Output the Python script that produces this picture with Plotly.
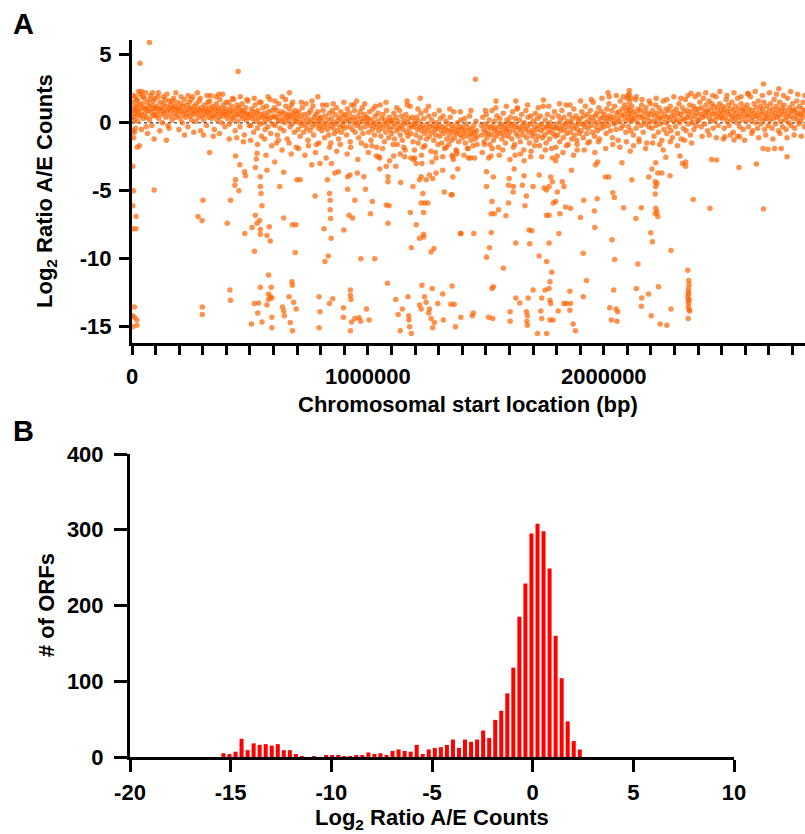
import plotly.graph_objects as go

# Panel A: (chromosomal start in kb, log2 ratio A/E counts)
band_0_700 = [
    (2,0.4),(4,0.9),(6,1.5),(8,0.2),(10,1.1),(12,0.7),(14,1.9),(16,0.5),(18,1.2),(20,0.9),(23,0.1),(25,1.6),(27,0.8),
    (30,1.3),(33,0.5),(35,2.1),(38,1.0),(41,0.6),(44,1.4),(47,0.3),(50,1.1),(53,1.8),(56,0.7),(59,1.0),(62,0.4),
    (65,1.5),(68,0.9),(71,1.2),(74,0.2),(77,1.7),(80,0.8),(83,1.3),(86,0.5),(89,1.0),(92,1.6),(95,0.6),(98,1.1),
    (3,-0.6),(7,-1.1),(15,-0.4),(22,-1.8),(40,-0.5),(60,-0.3),
    (101,0.5),(104,1.2),(107,0.8),(110,1.9),(113,0.3),(116,1.0),(119,1.5),(122,0.6),(125,1.1),(128,0.0),(131,0.9),
    (134,1.4),(137,0.7),(140,1.7),(143,0.4),(146,1.2),(149,0.8),(152,-0.2),(155,1.0),(158,1.6),(161,0.5),(164,1.3),
    (167,0.9),(170,0.2),(173,1.1),(176,1.8),(179,0.7),(182,1.2),(185,0.4),(188,1.0),(191,1.5),(194,0.6),(197,0.9),
    (201,1.1),(204,0.3),(207,1.4),(210,0.8),(213,0.0),(216,1.2),(219,0.6),(222,1.7),(225,0.9),(228,0.4),(231,1.3),
    (234,0.7),(237,-0.3),(240,1.0),(243,1.5),(246,0.5),(249,1.1),(252,0.2),(255,0.8),(258,1.9),(261,0.6),(264,1.2),
    (267,0.9),(270,0.1),(273,1.4),(276,0.7),(279,1.0),(282,0.4),(285,1.6),(288,0.8),(291,-0.6),(294,1.1),(297,0.5),
    (301,0.9),(304,0.2),(307,1.3),(310,0.6),(313,1.0),(316,-0.2),(319,0.8),(322,1.5),(325,0.4),(328,1.1),(331,0.7),
    (334,2.0),(337,0.3),(340,0.9),(343,1.2),(346,0.5),(349,-0.5),(352,1.0),(355,0.6),(358,1.4),(361,0.2),(364,0.8),
    (367,1.1),(370,0.4),(373,1.7),(376,0.7),(379,0.0),(382,1.0),(385,0.5),(388,1.3),(391,0.8),(394,-0.3),(397,0.6),
    (401,1.0),(404,0.3),(407,0.7),(410,1.5),(413,-0.1),(416,0.9),(419,0.5),(422,1.2),(425,0.2),(428,0.8),(431,1.7),
    (434,0.4),(437,-0.6),(440,1.0),(443,0.6),(446,1.3),(449,0.1),(452,0.7),(455,1.1),(458,-0.3),(461,0.5),(464,0.9),
    (467,1.4),(470,0.3),(473,0.8),(476,-0.9),(479,0.6),(482,1.1),(485,0.2),(488,0.7),(491,1.6),(494,0.4),(497,-0.2),
    (501,0.6),(504,-0.2),(507,1.0),(510,0.3),(513,0.8),(516,-0.7),(519,0.5),(522,1.3),(525,0.1),(528,0.7),(531,-0.4),
    (534,0.9),(537,0.3),(540,1.5),(543,-0.1),(546,0.6),(549,-1.0),(552,0.4),(555,1.1),(558,0.0),(561,0.7),(564,-0.5),
    (567,0.3),(570,1.2),(573,0.5),(576,-0.3),(579,0.8),(582,0.2),(585,1.7),(588,-0.8),(591,0.4),(594,0.9),(597,-0.1),
    (601,0.5),(604,1.1),(607,-0.2),(610,0.4),(613,0.9),(616,-0.9),(619,0.2),(622,1.4),(625,0.6),(628,-0.4),(631,0.1),
    (634,0.8),(637,1.9),(640,0.3),(643,-0.6),(646,0.7),(649,0.0),(652,1.2),(655,0.4),(658,-1.2),(661,0.6),(664,0.2),
    (667,1.0),(670,-0.3),(673,0.5),(676,1.3),(679,-0.1),(682,0.7),(685,0.3),(688,-0.7),(691,0.9),(694,0.1),(697,0.6),
]
band_700_1470 = [
    (701,0.3),(704,-0.5),(707,0.8),(710,0.0),(713,-1.0),(716,0.5),(719,-0.2),(722,1.1),(725,0.2),(728,-0.7),(731,0.6),
    (734,-0.1),(737,1.4),(740,-0.4),(743,0.3),(746,-1.3),(749,0.7),(752,0.0),(755,-0.6),(758,0.9),(761,0.2),(764,-0.3),
    (767,1.2),(770,-0.9),(773,0.4),(776,-0.1),(779,0.6),(782,-1.6),(785,0.1),(788,0.8),(791,-0.4),(794,0.3),(797,-0.2),
    (801,0.4),(804,-0.6),(807,0.1),(810,0.9),(813,-0.3),(816,-1.1),(819,0.5),(822,-0.1),(825,1.3),(828,-0.5),(831,0.2),
    (834,-0.9),(837,0.7),(840,-0.2),(843,-1.5),(846,0.3),(849,0.9),(852,-0.4),(855,0.0),(858,-0.8),(861,0.6),(864,-0.1),
    (867,1.1),(870,-0.6),(873,0.2),(876,-1.2),(879,0.4),(882,-0.3),(885,0.8),(888,-0.7),(891,0.1),(894,-0.2),(897,0.5),
    (901,-0.4),(904,0.6),(907,0.1),(910,-0.9),(913,1.0),(916,0.3),(919,-0.3),(922,0.7),(925,-1.4),(928,0.2),(931,1.3),
    (934,-0.5),(937,0.4),(940,-0.1),(943,0.9),(946,-0.7),(949,0.2),(952,1.6),(955,-0.2),(958,0.5),(961,-1.1),(964,0.0),
    (967,0.8),(970,-0.4),(973,0.3),(976,1.1),(979,-0.8),(982,0.1),(985,0.6),(988,-0.3),(991,-1.7),(994,0.4),(997,0.0),
    (1001,0.3),(1004,-0.7),(1007,0.8),(1010,-0.2),(1013,-1.3),(1016,0.2),(1019,-0.5),(1022,1.0),(1025,-0.1),(1028,-0.9),
    (1031,0.5),(1034,-0.3),(1037,-1.8),(1040,0.1),(1043,0.7),(1046,-0.6),(1049,-0.2),(1052,1.3),(1055,-1.0),(1058,0.3),
    (1061,-0.4),(1064,0.6),(1067,-0.1),(1070,-1.4),(1073,0.2),(1076,-0.7),(1079,0.9),(1082,-0.3),(1085,0.0),(1088,-1.1),
    (1091,0.4),(1094,-0.5),(1097,0.1),
    (1101,-0.8),(1104,0.2),(1107,-0.3),(1110,0.7),(1113,-1.2),(1116,-0.1),(1119,0.4),(1122,-0.6),(1125,-1.6),(1128,0.1),
    (1131,-0.4),(1134,0.9),(1137,-0.9),(1140,-0.2),(1143,0.5),(1146,-1.3),(1149,-0.5),(1152,0.2),(1155,-0.1),(1158,-2.0),
    (1161,0.6),(1164,-0.7),(1167,0.0),(1170,-1.0),(1173,0.3),(1176,-0.4),(1179,1.2),(1182,-0.8),(1185,-0.2),(1188,0.4),
    (1191,-1.4),(1194,-0.3),(1197,0.1),
    (1201,-0.1),(1204,-0.9),(1207,0.4),(1210,-0.5),(1213,-1.5),(1216,0.1),(1219,-0.3),(1222,-1.1),(1225,0.7),(1228,-0.6),
    (1231,-0.2),(1234,-1.8),(1237,0.3),(1240,-0.8),(1243,-0.4),(1246,0.9),(1249,-1.2),(1252,-0.1),(1255,-0.6),(1258,0.5),
    (1261,-1.0),(1264,-0.3),(1267,-2.1),(1270,0.2),(1273,-0.7),(1276,-0.2),(1279,-1.3),(1282,0.6),(1285,-0.5),(1288,-0.9),
    (1291,0.0),(1294,-0.4),(1297,-1.6),
    (1301,-0.2),(1304,-1.0),(1307,0.3),(1310,-0.6),(1313,-1.5),(1316,-0.3),(1319,0.5),(1322,-0.8),(1325,-1.9),(1328,-0.4),
    (1331,0.1),(1334,-1.2),(1337,-0.6),(1340,-0.1),(1343,-1.6),(1346,-0.9),(1349,0.4),(1352,-0.5),(1355,-1.3),(1358,-0.2),
    (1361,-0.7),(1364,0.8),(1367,-1.1),(1370,-0.4),(1373,-2.0),(1376,-0.8),(1379,0.0),(1382,-0.6),(1385,-1.4),(1388,-0.3),
    (1391,-0.9),(1394,0.2),(1397,-0.5),
    (1401,-1.1),(1404,-0.3),(1407,-0.8),(1410,0.3),(1413,-1.5),(1416,-0.6),(1419,-0.1),(1422,-1.0),(1425,-1.9),(1428,-0.4),
    (1431,0.5),(1434,-0.8),(1437,-1.3),(1440,-0.5),(1443,-0.9),(1446,-1.7),(1449,-0.2),(1452,-0.7),(1455,-1.2),(1458,0.1),
    (1461,-0.6),(1464,-1.0),
]
band_1480_2100 = [
    (1481,-0.2),(1484,-0.9),(1487,0.4),(1490,-0.5),(1493,-1.4),(1496,-0.1),(1499,-0.7),(1502,0.6),(1505,-1.1),(1508,-0.3),
    (1511,-0.8),(1514,0.2),(1517,-1.6),(1520,-0.4),(1523,-0.9),(1526,0.9),(1529,-0.2),(1532,-1.3),(1535,-0.6),(1538,0.1),
    (1541,-0.4),(1544,-1.0),(1547,0.5),(1550,-0.7),(1553,-1.8),(1556,-0.3),(1559,0.3),(1562,-0.8),(1565,-0.1),(1568,-1.2),
    (1571,-0.5),(1574,0.7),(1577,-0.9),(1580,-0.2),(1583,-1.5),(1586,-0.6),(1589,0.2),(1592,-0.4),(1595,-1.0),(1598,0.0),
    (1601,-0.7),(1604,0.4),(1607,-0.2),(1610,-1.2),(1613,0.8),(1616,-0.5),(1619,-0.1),(1622,-1.6),(1625,0.3),(1628,-0.8),
    (1631,-0.3),(1634,1.1),(1637,-1.0),(1640,-0.4),(1643,0.2),(1646,-1.4),(1649,-0.6),(1652,0.6),(1655,-0.2),(1658,-0.9),
    (1661,-2.0),(1664,0.0),(1667,-0.5),(1670,0.9),(1673,-1.1),(1676,-0.3),(1679,0.4),(1682,-0.7),(1685,-1.5),(1688,-0.1),
    (1691,0.5),(1694,-0.6),(1697,-1.0),
    (1701,0.1),(1704,-0.8),(1707,-0.3),(1710,0.7),(1713,-1.3),(1716,-0.5),(1719,0.3),(1722,-1.0),(1725,-0.2),(1728,-1.7),
    (1731,0.5),(1734,-0.6),(1737,-0.1),(1740,-1.1),(1743,1.2),(1746,-0.4),(1749,-0.9),(1752,0.2),(1755,-1.5),(1758,-0.3),
    (1761,0.6),(1764,-0.7),(1767,-0.2),(1770,-1.2),(1773,0.0),(1776,-0.5),(1779,-1.9),(1782,0.4),(1785,-0.8),(1788,-0.3),
    (1791,0.8),(1794,-1.0),(1797,-0.4),
    (1801,-0.1),(1804,-0.9),(1807,0.5),(1810,-0.4),(1813,-1.4),(1816,0.2),(1819,-0.6),(1822,0.9),(1825,-0.2),(1828,-1.1),
    (1831,0.4),(1834,-0.5),(1837,-0.1),(1840,1.3),(1843,-0.8),(1846,0.1),(1849,-1.6),(1852,-0.3),(1855,0.6),(1858,-0.7),
    (1861,0.0),(1864,-1.2),(1867,0.3),(1870,-0.4),(1873,1.0),(1876,-0.9),(1879,-0.2),(1882,0.5),(1885,-1.3),(1888,-0.5),
    (1891,0.2),(1894,-0.1),(1897,-0.8),
    (1901,0.3),(1904,-0.6),(1907,0.8),(1910,-0.1),(1913,-1.1),(1916,0.5),(1919,-0.3),(1922,1.2),(1925,0.0),(1928,-0.8),
    (1931,0.6),(1934,-0.4),(1937,0.2),(1940,-1.4),(1943,0.9),(1946,-0.2),(1949,0.4),(1952,-0.7),(1955,1.5),(1958,0.1),
    (1961,-1.0),(1964,0.5),(1967,-0.3),(1970,0.7),(1973,-0.6),(1976,0.0),(1979,1.1),(1982,-1.2),(1985,0.3),(1988,-0.4),
    (1991,0.8),(1994,-0.1),(1997,0.4),
    (2001,-0.3),(2004,0.6),(2007,0.1),(2010,-0.8),(2013,1.0),(2016,0.3),(2019,-0.2),(2022,1.4),(2025,0.5),(2028,-0.6),
    (2031,0.2),(2034,0.9),(2037,-1.1),(2040,0.4),(2043,-0.1),(2046,1.2),(2049,0.0),(2052,-0.5),(2055,0.7),(2058,0.3),
    (2061,-1.3),(2064,0.8),(2067,0.1),(2070,1.6),(2073,-0.4),(2076,0.5),(2079,1.0),(2082,-0.2),(2085,0.6),(2088,1.3),
    (2091,0.2),(2094,-0.7),(2097,0.9),(2099,1.8),
]
band_2100_2860 = [
    (2101,0.4),(2103,1.1),(2105,-0.3),(2107,0.7),(2109,1.5),(2111,0.1),(2113,0.9),(2115,-0.6),(2117,0.5),(2119,1.2),
    (2122,0.2),(2125,-0.9),(2128,0.8),(2131,0.3),(2134,1.7),(2137,-0.4),(2140,0.6),(2143,0.0),(2146,1.0),(2149,-1.2),
    (2152,0.4),(2155,0.9),(2158,-0.2),(2161,1.3),(2164,0.5),(2167,-0.7),(2170,0.2),(2173,0.8),(2176,-0.1),(2179,1.1),
    (2182,-1.5),(2185,0.4),(2188,0.7),(2191,-0.3),(2194,0.1),(2197,1.4),
    (2201,0.6),(2204,-0.4),(2207,0.9),(2210,0.1),(2213,-1.0),(2216,0.5),(2219,1.3),(2222,-0.2),(2225,0.7),(2228,0.2),
    (2231,-0.7),(2234,1.1),(2237,0.4),(2240,-0.1),(2243,0.8),(2246,-1.3),(2249,0.3),(2252,1.6),(2255,-0.5),(2258,0.6),
    (2261,0.0),(2264,1.0),(2267,-0.8),(2270,0.4),(2273,0.9),(2276,-0.3),(2279,0.2),(2282,1.2),(2285,-0.6),(2288,0.5),
    (2291,-1.1),(2294,0.8),(2297,0.1),
    (2301,0.5),(2304,-0.3),(2307,1.0),(2310,0.2),(2313,-0.8),(2316,0.7),(2319,1.4),(2322,0.0),(2325,0.6),(2328,-1.2),
    (2331,0.3),(2334,1.1),(2337,-0.4),(2340,0.8),(2343,0.2),(2346,1.7),(2349,-0.6),(2352,0.4),(2355,0.9),(2358,-0.1),
    (2361,0.6),(2364,1.3),(2367,-0.9),(2370,0.3),(2373,0.8),(2376,0.0),(2379,1.2),(2382,-0.5),(2385,0.5),(2388,1.0),
    (2391,-0.2),(2394,0.7),(2397,0.2),
    (2401,1.0),(2404,0.2),(2407,1.5),(2410,0.6),(2413,-0.3),(2416,1.1),(2419,0.4),(2422,1.8),(2425,0.8),(2428,-0.1),
    (2431,0.5),(2434,1.3),(2437,0.9),(2440,-0.6),(2443,0.7),(2446,1.6),(2449,0.3),(2452,1.0),(2455,0.1),(2458,1.4),
    (2461,0.6),(2464,-0.4),(2467,1.2),(2470,0.8),(2473,0.2),(2476,1.9),(2479,0.5),(2482,1.1),(2485,-0.2),(2488,0.7),
    (2491,1.4),(2494,0.4),(2497,0.9),
    (2501,0.3),(2504,1.2),(2507,0.7),(2510,-0.4),(2513,1.0),(2516,0.4),(2519,1.7),(2522,0.1),(2525,0.8),(2528,1.3),
    (2531,-0.2),(2534,0.6),(2537,1.0),(2540,0.2),(2543,1.5),(2546,0.5),(2549,-0.7),(2552,0.9),(2555,0.3),(2558,1.2),
    (2561,0.7),(2564,0.0),(2567,1.8),(2570,0.4),(2573,1.0),(2576,-0.3),(2579,0.6),(2582,1.4),(2585,0.2),(2588,0.9),
    (2591,-0.5),(2594,1.1),(2597,0.5),
    (2601,0.8),(2604,0.1),(2607,1.3),(2610,0.5),(2613,-0.3),(2616,1.0),(2619,0.6),(2622,1.9),(2625,0.2),(2628,0.9),
    (2631,-0.6),(2634,0.4),(2637,1.4),(2640,0.7),(2643,0.0),(2646,1.1),(2649,0.5),(2652,-0.4),(2655,1.6),(2658,0.3),
    (2661,0.8),(2664,1.2),(2667,-0.1),(2670,0.6),(2673,1.0),(2676,0.2),(2679,1.5),(2682,-0.5),(2685,0.7),(2688,0.3),
    (2691,1.2),(2694,0.5),(2697,-0.2),
    (2701,0.9),(2704,0.2),(2707,1.4),(2710,0.6),(2713,-0.4),(2716,1.0),(2719,0.3),(2722,1.7),(2725,0.7),(2728,-0.1),
    (2731,1.2),(2734,0.4),(2737,0.9),(2740,-0.6),(2743,0.5),(2746,1.5),(2749,0.1),(2752,0.8),(2755,1.1),(2758,-0.3),
    (2761,0.6),(2764,1.3),(2767,0.2),(2770,0.9),(2773,-0.5),(2776,0.4),(2779,1.8),(2782,0.7),(2785,0.0),(2788,1.1),
    (2791,0.5),(2794,-0.2),(2797,0.9),(2800,1.4),(2803,0.3),(2806,0.8),(2809,-0.4),(2812,1.0),(2815,0.5),(2818,1.6),
    (2821,0.2),(2824,0.7),(2827,-0.1),(2830,1.2),(2833,0.6),(2836,0.1),(2839,1.0),(2842,0.4),(2845,1.5),(2848,0.7),
    (2851,-0.3),(2854,0.9),
]
band_fringe = [
    (5,2.0),(19,1.7),(28,2.3),(45,1.9),(58,2.2),(66,-0.8),(79,2.0),(84,-0.2),(97,1.8),(112,2.2),(118,-0.6),(133,1.9),
    (148,2.1),(157,-0.4),(171,1.6),(186,2.2),(199,-0.5),(208,1.9),(223,-0.9),(238,2.0),(251,1.7),(262,-0.7),(277,2.2),
    (289,1.8),(303,-0.9),(318,2.0),(330,1.6),(344,-1.0),(356,1.9),(371,-0.8),(384,2.1),(399,1.5),(412,-1.2),(426,1.8),
    (444,-1.1),(459,1.9),(472,-1.4),(487,1.7),(503,-1.3),(518,1.8),(532,-1.6),(547,1.5),(562,-1.2),(577,1.9),(592,-1.7),
    (606,1.6),(621,-1.3),(636,-2.0),(651,1.7),(666,-1.5),(681,1.5),(696,-1.8),
    (706,-1.9),(718,1.5),(733,-2.4),(748,-1.7),(763,1.6),(778,-2.2),(793,-1.5),(808,1.3),(823,-2.6),(838,-1.8),(853,1.4),
    (868,-2.1),(883,-1.6),(898,1.5),(912,-2.3),(927,-1.8),(942,1.3),(957,-2.7),(972,-1.5),(987,1.4),(1002,-2.2),
    (1017,-1.7),(1032,1.2),(1047,-2.5),(1062,-1.9),(1077,1.5),(1092,-2.8),(1107,-1.6),(1122,1.1),(1137,-2.3),(1152,-1.8),
    (1167,1.3),(1182,-2.6),(1197,-2.0),(1212,1.0),(1227,-2.4),(1242,-1.7),(1257,1.2),(1272,-2.9),(1287,-2.2),(1302,0.9),
    (1317,-2.5),(1332,-1.8),(1347,1.0),(1362,-2.7),(1377,-2.1),(1392,0.8),(1407,-2.4),(1422,-1.9),(1437,0.9),(1452,-2.6),
    (1463,-1.6),
    (1485,-2.2),(1498,0.9),(1512,-2.6),(1527,-1.9),(1542,1.1),(1557,-2.4),(1572,-2.0),(1587,1.2),(1602,-2.7),(1617,-1.8),
    (1632,1.0),(1647,-2.3),(1662,-2.8),(1677,1.3),(1692,-2.1),(1707,-1.7),(1722,1.1),(1737,-2.5),(1752,-2.0),(1767,1.2),
    (1782,-2.6),(1797,-1.8),(1812,1.4),(1827,-2.2),(1842,-1.7),(1857,1.3),(1872,-2.4),(1887,-1.6),(1902,1.6),(1917,-2.0),
    (1932,-1.5),(1947,1.7),(1962,-2.2),(1977,-1.4),(1992,1.8),(2008,-1.9),(2023,1.9),(2038,-1.6),(2053,2.0),(2068,-1.8),
    (2083,1.9),(2096,-1.4),
    (2102,2.0),(2114,1.8),(2126,-1.7),(2138,1.9),(2150,-1.4),(2162,1.7),(2177,-1.9),(2192,1.6),(2207,-1.5),(2222,1.8),
    (2237,-1.6),(2252,-2.0),(2267,1.7),(2282,-1.4),(2297,1.9),(2312,-1.7),(2327,1.8),(2342,-1.3),(2357,2.0),(2372,-1.5),
    (2387,1.9),(2402,2.1),(2417,-1.0),(2432,2.2),(2447,-0.9),(2462,2.0),(2477,-1.1),(2492,2.3),(2507,-1.2),(2522,2.0),
    (2537,-0.9),(2552,2.2),(2567,-1.0),(2582,1.9),(2597,-1.3),(2612,2.1),(2627,-0.8),(2642,2.3),(2657,-1.1),(2672,2.0),
    (2687,-0.9),(2702,2.2),(2717,-1.2),(2732,2.1),(2747,-0.8),(2762,2.0),(2777,-1.1),(2792,2.3),(2807,-0.9),(2822,2.1),
    (2837,-1.0),(2852,2.0),
]
high_points = [
    (74,5.9),(34,4.37),(450,3.76),(1456,3.2),(2677,2.85),(41,2.3),(87,2.2),(667,2.2),(788,1.9),(368,2.1),(1166,1.6),
    (1222,1.8),(2018,2.2),(2108,2.36),(2108,2.1),(2742,2.5),(2370,2.16),(2611,2.16),(1543,1.6),(1744,1.67),(1627,1.6),
    (10,-0.7),(31,-1.7),(94,-1.2),(146,-1.3),(612,-1.5),(1494,-1.6),
]
tail_left = [
    (94,-4.95),(3,-3.2),(6,-5.0),(3,-6.1),(17,-6.9),(3,-7.8),(17,-7.8),(329,-2.2),(301,-5.7),(280,-6.9),(297,-7.2),
    (404,-7.4),(418,-5.7),(436,-4.6),(453,-5.0),(439,-4.2),(457,-3.1),(439,-2.45),(477,-3.6),(481,-3.9),
    (478,-8.15),(519,-9.45),(523,-6.8),(530,-7.4),(541,-7.2),(544,-7.85),(509,-7.7),(544,-8.2),(572,-8.3),(586,-8.7),
    (582,-7.65),(551,-6.1),(547,-5.2),(544,-4.7),(544,-3.97),(523,-3.3),(527,-2.67),(530,-2.25),(568,-2.4),(572,-3.5),
    (605,-2.9),(626,-4.7),(643,-3.65),(643,-7.0),(680,-7.5),(695,-7.5),(692,-9.55),(699,-4.2),(713,-4.2),(675,-2.3),
    (776,-5.4),(814,-7.8),(832,-9.8),(818,-10.2),(837,-5.2),(840,-5.7),(840,-6.4),(842,-7.05),(844,-8.5),(828,-4.2),
    (797,-3.0),(846,-3.0),(762,-3.1),(875,-3.6),(860,-3.7),(914,-4.9),(914,-3.97),(924,-3.85),(920,-6.8),(935,-7.0),
    (898,-7.9),(945,-5.7),(955,-3.7),(990,-4.9),(983,-3.97),(970,-10.0),
]
tail_mid = [
    (1029,-10.0),(1011,-6.7),(1019,-5.8),(1036,-2.45),(1050,-2.6),(1050,-3.4),(1078,-3.2),(1085,-3.97),(1085,-4.35),
    (1078,-6.06),(1090,-6.1),(1085,-7.4),(1118,-3.2),(1109,-2.45),(1139,-4.4),(1156,-2.5),(1191,-4.7),(1194,-2.7),
    (1180,-6.6),(1184,-9.2),(1205,-7.5),(1219,-8.5),(1226,-5.9),(1236,-6.6),(1240,-5.9),(1233,-5.2),(1254,-5.9),
    (1236,-8.2),(1237,-8.4),(1268,-9.5),(1280,-9.25),(1275,-4.1),(1261,-3.85),(1247,-4.2),(1226,-3.97),(1219,-4.2),
    (1289,-3.7),(1324,-5.1),(1317,-3.5),(1360,-4.0),(1353,-5.3),(1392,-8.15),(1381,-3.4),(1289,-2.6),(1360,-2.5),
    (1426,-2.6),(1205,-3.0),(1198,-2.6),(1229,-3.0),(1357,-2.4),(1377,-2.3),(1435,-2.6),(1357,-5.3),(1395,-8.15),
    (1449,-8.15),(1522,-2.45),(1503,-3.6),(1532,-4.0),(1503,-4.7),(1526,-5.8),(1522,-6.7),(1536,-6.7),(1554,-6.4),
    (1523,-8.07),(1515,-9.2),(1503,-9.9),(1574,-10.7),(1585,-6.85),(1596,-5.9),(1599,-4.1),(1617,-4.7),(1616,-5.1),
    (1596,-4.6),(1620,-3.4),(1624,-2.4),(1627,-8.85),(1662,-3.9),(1655,-4.6),(1672,-5.4),(1666,-6.1),(1683,-7.9),
    (1695,-7.95),(1686,-8.9),(1726,-9.8),(1690,-2.5),(1700,-4.7),(1726,-3.85),(1747,-4.8),(1757,-4.95),(1768,-4.7),
    (1775,-4.0),(1782,-4.35),(1786,-5.9),(1796,-5.8),(1803,-5.1),(1814,-6.7),(1757,-6.8),(1768,-6.8),(1768,-8.85),
    (1758,-10.2),(1779,-11.0),(1772,-11.7),(1803,-2.45),(1796,-2.8),(1824,-4.35),(1831,-4.7),(1838,-6.2),(1810,-8.15),
    (1859,-6.3),(1863,-3.5),(1901,-6.97),(1915,-5.7),(1913,-9.6),(1927,-11.6),(1887,-2.0),(1965,-3.1),(1974,-2.9),
    (1972,-5.6),(1960,-6.5),(1962,-7.7),
]
tail_right = [
    (2007,-4.0),(2021,-4.0),(2038,-5.15),(2045,-5.5),(2035,-8.6),(2046,-10.06),(2077,-2.94),(2112,-2.1),(2119,-4.2),
    (2084,-6.25),(2136,-7.04),(2159,-6.25),(2145,-10.4),(2190,-4.0),(2204,-3.4),(2199,-8.1),(2206,-8.76),(2218,-6.67),
    (2225,-6.55),(2229,-6.9),(2220,-6.3),(2218,-5.25),(2220,-4.7),(2225,-4.45),(2218,-4.35),(2229,-3.7),(2246,-3.7),
    (2220,-2.94),(2263,-2.55),(2281,-3.9),(2285,-9.4),(2323,-2.45),(2334,-3.0),(2347,-2.9),(2347,-3.2),(2379,-5.65),
    (2450,-6.3),(2457,-2.7),(2478,-2.75),(2573,-3.3),(2647,-3.04),(2677,-6.35),(2777,-2.5),(2675,-1.9),(2696,-1.96),
    (2724,-1.9),(2752,-1.9),(2513,-1.03),(2552,-1.27),(2576,-1.03),(2356,-10.85),
]
low_cluster = [
    (10,-13.55),(2,-14.2),(10,-14.3),(21,-14.5),(21,-14.9),(3,-15.0),(298,-13.55),(298,-14.1),(415,-12.3),(418,-13.05),
    (579,-11.2),(544,-12.1),(590,-12.1),(579,-12.6),(586,-12.8),(593,-12.9),(579,-13.0),(572,-13.4),(537,-13.25),
    (519,-13.3),(533,-14.0),(506,-14.8),(551,-14.65),(593,-14.3),(593,-15.07),(638,-13.55),(643,-13.85),(646,-14.2),
    (678,-11.7),(680,-11.95),(666,-12.8),(685,-13.2),(696,-13.7),(671,-14.7),(680,-15.3),(793,-12.8),(837,-13.3),
    (851,-12.95),(797,-13.9),(793,-15.07),(896,-13.6),(896,-14.3),(926,-12.3),(926,-12.7),(928,-13.0),(931,-14.65),
    (945,-14.4),(963,-14.35),(969,-14.6),(994,-13.7),(1005,-14.5),(926,-15.3),
    (1083,-11.8),(1118,-13.0),(1146,-13.7),(1128,-14.1),(1170,-12.8),(1173,-14.2),(1174,-14.5),(1177,-15.0),(1184,-15.5),
    (1137,-15.3),(1229,-11.95),(1219,-13.4),(1226,-13.7),(1247,-13.2),(1240,-12.8),(1261,-13.7),(1258,-14.0),
    (1273,-12.2),(1268,-14.4),(1282,-14.7),(1275,-15.07),(1296,-13.3),(1317,-12.6),(1320,-14.5),(1357,-12.0),
    (1352,-13.35),(1366,-13.35),(1371,-15.0),(1394,-14.3),(1442,-14.2),(1447,-14.0),(1532,-12.07),(1526,-12.2),
    (1512,-14.3),(1529,-14.4),(1627,-12.9),(1644,-13.25),(1603,-13.9),(1603,-14.6),(1768,-12.2),(1751,-12.3),
    (1772,-13.05),(1775,-13.3),(1737,-12.9),(1700,-12.3),(1679,-12.9),(1672,-13.9),(1676,-14.2),(1674,-14.6),
    (1676,-14.9),(1719,-15.5),(1758,-15.5),(1733,-13.85),(1737,-14.4),(1772,-14.5),(1785,-14.5),(1807,-13.85),
    (1831,-13.3),(1841,-13.3),(1856,-12.4),(1859,-13.3),(1870,-14.8),(1880,-15.3),(1856,-13.8),(1913,-12.8),
    (2042,-12.3),(2025,-13.6),(2052,-13.7),(2059,-13.9),(2032,-14.5),(2056,-14.6),(2138,-12.2),(2161,-12.9),
    (2159,-13.5),(2190,-12.6),(2201,-14.2),(2232,-12.07),(2285,-13.7),(2239,-14.8),(2267,-14.9),
    (2360,-11.6),(2362,-11.9),(2360,-12.2),(2358,-12.45),(2360,-12.6),(2356,-12.8),(2362,-13.0),(2358,-13.1),
    (2360,-13.3),(2358,-13.55),(2362,-13.75),(2364,-13.85),(2358,-14.4),
]

# Panel B: histogram of log2 ratios (bin centres, counts)
bin_centers = [
    -15.36, -15.06, -14.76, -14.46, -14.16, -13.86, -13.56, -13.26, -12.96, -12.66,
    -12.36, -12.06, -11.76, -11.46, -11.16, -10.86, -10.56, -10.26, -9.96, -9.66,
    -9.36, -9.06, -8.76, -8.46, -8.16, -7.86, -7.56, -7.26, -6.96, -6.66,
    -6.36, -6.06, -5.76, -5.46, -5.16, -4.86, -4.56, -4.26, -3.96, -3.66,
    -3.36, -3.06, -2.76, -2.46, -2.16, -1.86, -1.56, -1.26, -0.96, -0.66,
    -0.36, -0.06, 0.24, 0.54, 0.84, 1.14, 1.44, 1.74, 2.04, 2.34,
]
orf_counts = [
    5, 4, 7, 24, 9, 18, 16, 17, 15, 17,
    9, 9, 4, 1, 0, 1, 0, 2, 2, 2,
    1, 1, 2, 2, 6, 4, 5, 2, 8, 10,
    8, 7, 16, 4, 10, 12, 13, 16, 23, 12,
    23, 20, 23, 35, 25, 49, 61, 84, 118, 185,
    229, 295, 308, 298, 249, 160, 104, 47, 21, 10,
]

W, H = 805, 834
FONT = "Arial, Liberation Sans, sans-serif"
FS = 22


def px_x(x):
    return x / W


def px_y(y):
    return 1 - y / H


pts = (band_0_700 + band_700_1470 + band_1480_2100 + band_2100_2860 + band_fringe + high_points
       + tail_left + tail_mid + tail_right + low_cluster)

fig = go.Figure()
fig.add_trace(go.Scatter(
    x=[p[0] * 1000 for p in pts], y=[p[1] for p in pts],
    mode="markers",
    marker=dict(size=5.5, color="rgba(255,100,0,0.7)", line=dict(width=0)),
    xaxis="x", yaxis="y", hoverinfo="skip",
))
fig.add_trace(go.Bar(
    x=bin_centers, y=orf_counts, width=0.2,
    marker=dict(color="#ff0000", line=dict(width=0)),
    xaxis="x2", yaxis="y2",
))

tick_font = dict(family=FONT, size=FS, color="black", weight="bold")
axis_common = dict(
    showline=True, linecolor="black", linewidth=3, ticks="outside", tickcolor="black",
    tickwidth=3, showgrid=False, zeroline=False, automargin=False, tickfont=tick_font,
)

fig.update_layout(
    template="none",
    width=W, height=H,
    margin=dict(l=0, r=0, t=0, b=0, pad=0),
    paper_bgcolor="white", plot_bgcolor="white",
    showlegend=False,
    xaxis=dict(
        axis_common, domain=[px_x(132), 1.0], range=[0, 2853000], anchor="y",
        tickvals=[0, 1000000, 2000000], ticktext=["0", "1000000", "2000000"], ticklen=9,
        ticklabelstandoff=3,
        minor=dict(dtick=100000, ticks="outside", ticklen=9, tickwidth=3, tickcolor="black"),
    ),
    yaxis=dict(
        axis_common, domain=[px_y(343), px_y(40)], range=[-16.2, 6.08], anchor="x",
        tickvals=[5, 0, -5, -10, -15], ticktext=["5", "0", "-5", "-10", "-15"], ticklen=10,
        ticklabelstandoff=3,
    ),
    xaxis2=dict(
        axis_common, domain=[px_x(130), px_x(734)], range=[-20, 10], anchor="y2",
        tickvals=[-20, -15, -10, -5, 0, 5, 10], ticktext=["-20", "-15", "-10", "-5", "0", "5", "10"],
        ticklen=12, ticklabelstandoff=2,
    ),
    yaxis2=dict(
        axis_common, domain=[px_y(757), px_y(454)], range=[0, 400], anchor="x2",
        tickvals=[0, 100, 200, 300, 400], ticklen=13, ticklabelstandoff=6,
    ),
    shapes=[dict(type="line", xref="x domain", yref="y", x0=0, x1=1, y0=0, y1=0,
                 line=dict(color="#56616e", width=1.5, dash="dot"), layer="below")],
)

title_font = dict(family=FONT, size=FS, color="black", weight="bold")
labels = [
    ("A", 11, 24, 0, dict(family=FONT, size=29, color="black", weight="bold"), "left"),
    ("B", 11, 431, 0, dict(family=FONT, size=29, color="black", weight="bold"), "left"),
    ("Chromosomal start location (bp)", 468, 404, 0, title_font, "center"),
    ("Log<sub>2</sub> Ratio A/E Counts", 46, 191, -90, title_font, "center"),
    ("Log<sub>2</sub> Ratio A/E Counts", 432, 819, 0, title_font, "center"),
    ("# of ORFs", 46, 605, -90, title_font, "center"),
]
for text, x, y, angle, font, anchor in labels:
    fig.add_annotation(text=text, x=px_x(x), y=px_y(y), xref="paper", yref="paper",
                       xanchor=anchor, yanchor="middle", textangle=angle,
                       showarrow=False, font=font)

fig.write_html("out.html", config={"displayModeBar": False},
               post_script="document.body.style.margin='0px';")
